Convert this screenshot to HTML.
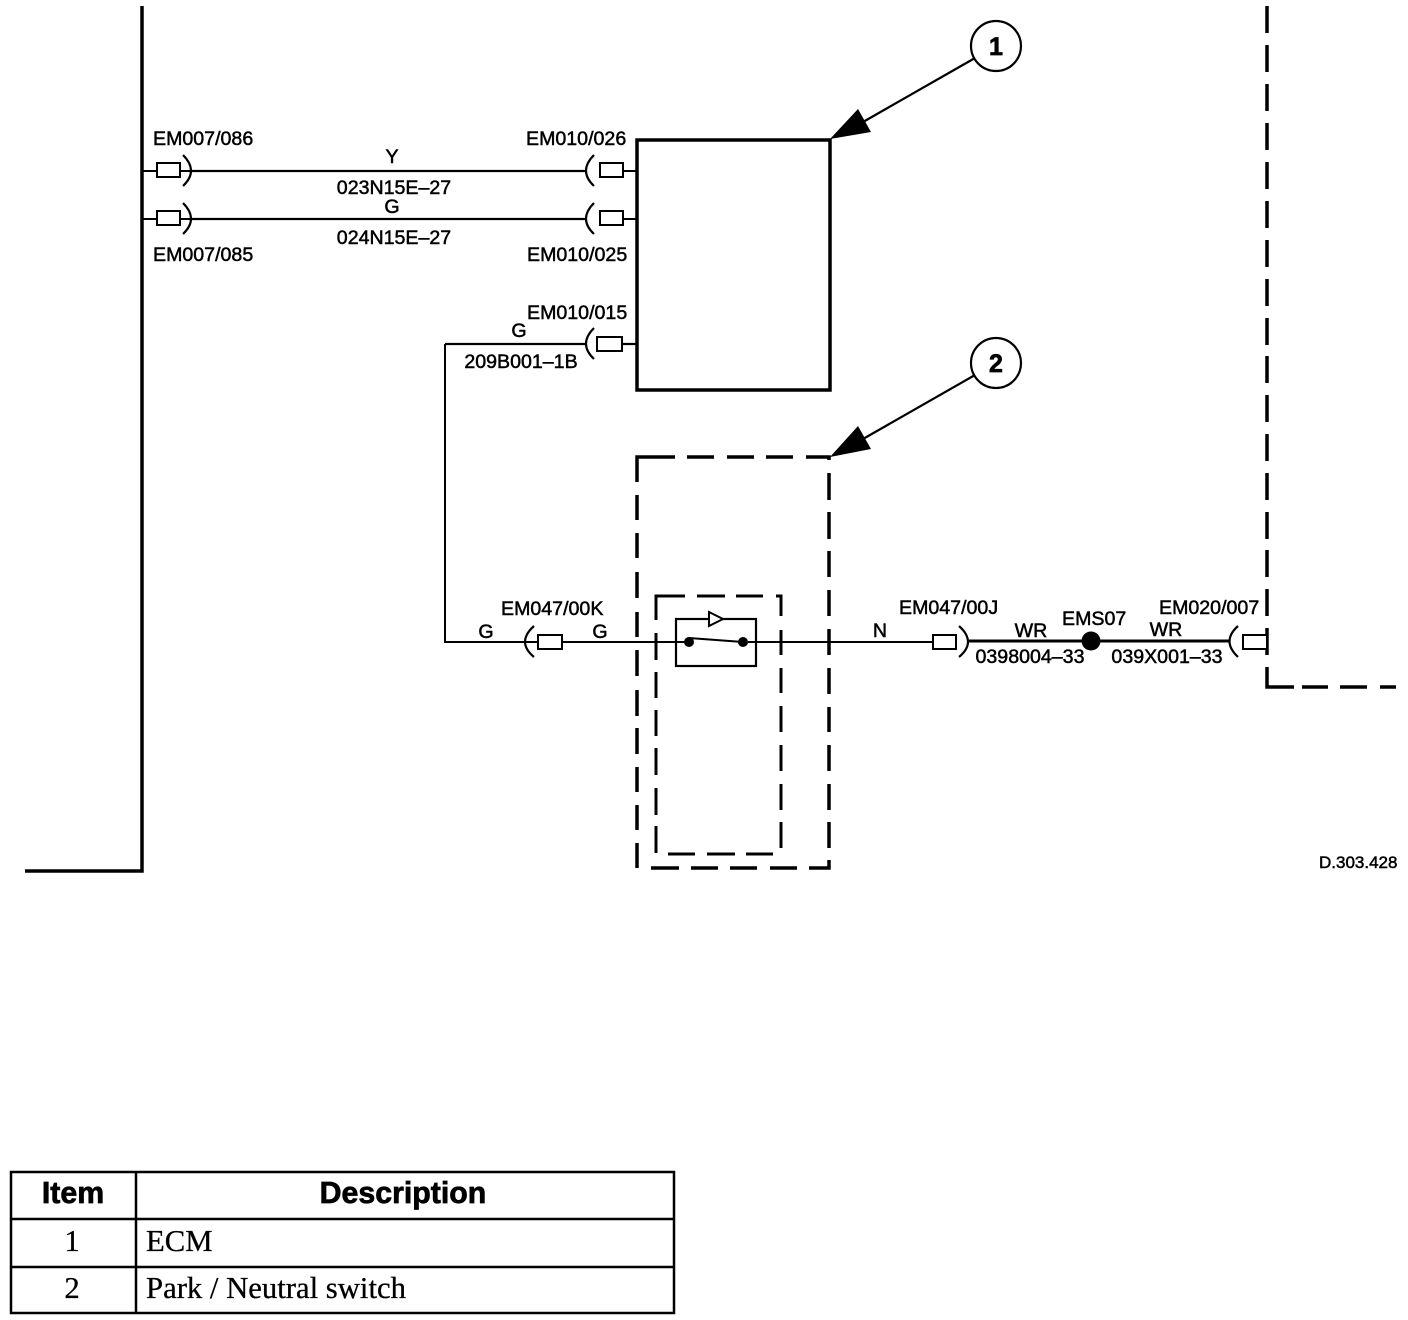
<!DOCTYPE html>
<html><head><meta charset="utf-8"><style>
html,body{margin:0;padding:0;background:#fff}
svg{display:block}
.l{font-family:"Liberation Sans",sans-serif;font-size:19.6px;fill:#000;stroke:#000;stroke-width:.5}
.m{text-anchor:middle}
.h{font-family:"Liberation Sans",sans-serif;font-size:30.3px;font-weight:bold;fill:#000;text-anchor:middle;stroke:#000;stroke-width:.7}
.s{font-family:"Liberation Serif",serif;font-size:30.7px;fill:#000;stroke:#000;stroke-width:.3}
</style></head><body>
<svg width="1408" height="1320" viewBox="0 0 1408 1320" xmlns="http://www.w3.org/2000/svg">
<rect width="1408" height="1320" fill="#fff"/>
<g fill="none" stroke="#000">
<path d="M142 6V871H25" stroke-width="3.5"/>
<rect x="637" y="140" width="193" height="250" stroke-width="3.5"/>
<path stroke-width="3.5" d="M1267 6V33M1267 45V72M1267 84V111M1267 123V150M1267 162V189M1267 201V228M1267 240V267M1267 279V306M1267 318V345M1267 356V383M1267 395V422M1267 434V461M1267 473V500M1267 512V539M1267 550V577M1267 589V616M1267 628V655M1267 667V687H1294M1302 687H1328M1340 687H1367M1380 687H1396"/>
<path stroke-width="3.5" d="M637 482V457H675M687 457H714M727 457H754M766 457H793M806 457H829V460M829 473V500M829 512V539M829 551V577M829 590V616M829 629V655M829 668V694M829 707V732M829 745V771M829 784V810M829 822V848M829 860V868H809M797 868H770M757 868H730M718 868H691M679 868H651M637 868V843M637 830V805M637 792V767M637 754V728M637 716V690M637 676V650M637 637V612M637 598V572M637 558V533M637 520V495"/>
<path stroke-width="3" d="M656 620V596H685M697 596H725M736 596H763M776 596H781V616M781 630V655M781 668V693M781 706V732M781 745V771M781 784V810M781 822V848M773 854H746M735 854H707M695 854H668M656 853V826M656 815V788M656 775V748M656 736V710M656 698V672M656 660V633"/>
<!-- wires -->
<path stroke-width="2" d="M143 171H157M180 171H192M623 171H637M143 219H157M180 219H192M623 219H637"/>
<path stroke-width="2.2" d="M192 171H585M192 219H585M445 344H585M622 344H637"/>
<path stroke-width="2" d="M445 344V642H538M562 642H685M748 642H933"/>
<path stroke-width="3" d="M969 641H1229"/>
<path stroke-width="2.2" d="M183 155Q199 171 183 186M183 203Q199 219 183 234M594 155Q578 171 594 186M594 203Q578 219 594 234M594 328Q578 344 594 359M534 626Q516 642 534 657M959 626Q977 642 959 657M1238 626Q1221 641 1238 657"/>
<g stroke-width="2" fill="#fff">
<rect x="157" y="163" width="23" height="14"/>
<rect x="157" y="211" width="23" height="14"/>
<rect x="600" y="163" width="23" height="14"/>
<rect x="600" y="211" width="23" height="14"/>
<rect x="597" y="337" width="25" height="14"/>
<rect x="538" y="635" width="24" height="14"/>
<rect x="933" y="635" width="23" height="14"/>
<rect x="1243" y="635" width="24" height="14"/>
</g>
<!-- switch -->
<rect x="676" y="619" width="80" height="47" stroke-width="2.2"/>
<path stroke-width="2" d="M689 638L743 642"/>
<path stroke-width="2" fill="#fff" d="M709 612L723 619L709 626Z"/>
<!-- callouts -->
<circle cx="996" cy="46" r="25" stroke-width="2.2"/>
<circle cx="996" cy="363" r="25" stroke-width="2.2"/>
<path stroke-width="2.2" d="M975 58L863 122M975 375L863 439"/>
</g>
<circle cx="689" cy="642" r="5"/>
<circle cx="743" cy="642" r="5"/>
<circle cx="1091" cy="641" r="9.5"/>
<path d="M830 139L858 109L871 132Z"/>
<path d="M830 457L858 426L871 449Z"/>
<text x="996" y="55" class="h" style="font-size:25px">1</text>
<text x="996" y="372" class="h" style="font-size:25px">2</text>
<!-- labels -->
<text class="l" x="153" y="145">EM007/086</text>
<text class="l" x="526" y="145">EM010/026</text>
<text class="l m" x="392" y="163">Y</text>
<text class="l m" x="394" y="194">023N15E–27</text>
<text class="l m" x="392" y="213">G</text>
<text class="l m" x="394" y="244">024N15E–27</text>
<text class="l" x="153" y="261">EM007/085</text>
<text class="l" x="527" y="261">EM010/025</text>
<text class="l" x="527" y="319">EM010/015</text>
<text class="l m" x="519" y="337">G</text>
<text class="l m" x="521" y="368">209B001–1B</text>
<text class="l" x="501" y="615">EM047/00K</text>
<text class="l m" x="486" y="638">G</text>
<text class="l m" x="600" y="638">G</text>
<text class="l m" x="880" y="637">N</text>
<text class="l" x="899" y="614">EM047/00J</text>
<text class="l m" x="1031" y="637">WR</text>
<text class="l" x="1062" y="625">EMS07</text>
<text class="l m" x="1166" y="636">WR</text>
<text class="l m" x="1030" y="663">0398004–33</text>
<text class="l m" x="1167" y="663">039X001–33</text>
<text class="l" x="1159" y="614">EM020/007</text>
<text class="l" x="1319" y="868" style="font-size:17px">D.303.428</text>
<!-- table -->
<g fill="none" stroke="#000" stroke-width="2.5">
<rect x="11" y="1172" width="663" height="141"/>
<path d="M11 1219H674M11 1267H674M136 1172V1313"/>
</g>
<text class="h" x="73" y="1203">Item</text>
<text class="h" x="403" y="1203">Description</text>
<text class="s" x="72" y="1251" text-anchor="middle">1</text>
<text class="s" x="146" y="1251">ECM</text>
<text class="s" x="72" y="1298" text-anchor="middle">2</text>
<text class="s" x="146" y="1298">Park / Neutral switch</text>
</svg>
</body></html>
